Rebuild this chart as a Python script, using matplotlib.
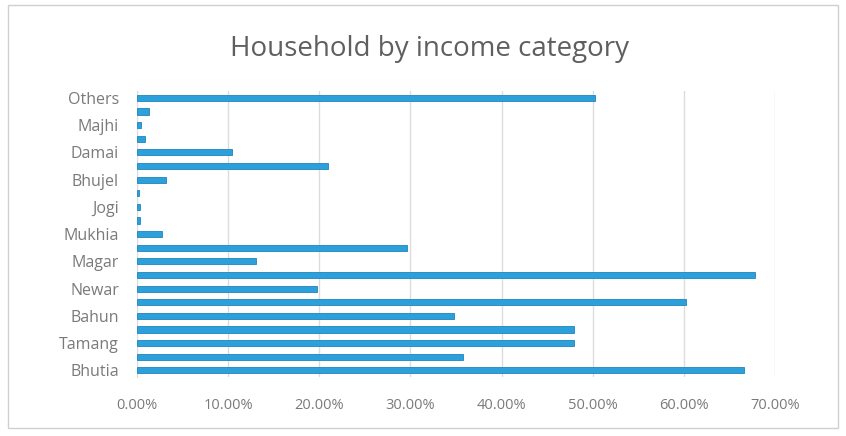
import matplotlib
matplotlib.use("Agg")
import matplotlib.pyplot as plt
from matplotlib.patches import Rectangle
from matplotlib.ticker import PercentFormatter

# Share of households per group (bottom to top); every other group is labelled
labels = ["Bhutia", "Tamang", "Bahun", "Newar", "Magar", "Mukhia",
          "Jogi", "Bhujel", "Damai", "Majhi", "Others"]
values = [0.666, 0.358, 0.479, 0.479, 0.348, 0.602, 0.197, 0.678,
          0.131, 0.296, 0.027, 0.003, 0.003, 0.002, 0.032, 0.209,
          0.104, 0.009, 0.004, 0.013, 0.502]
x_ticks = [0.0, 0.1, 0.2, 0.3, 0.4, 0.5, 0.6, 0.7]

plt.rcParams['font.family'] = ['Open Sans', 'DejaVu Sans']

fig = plt.figure(figsize=(8.46, 4.36), dpi=100)
fig.patch.set_facecolor("white")
fig.patches.append(Rectangle((0.010, 0.018), 0.980, 0.970, transform=fig.transFigure,
                             fill=False, edgecolor="#d0d0d0", linewidth=1.0))

ax = fig.add_axes([0.162, 0.135, 0.754, 0.656])
pos = range(len(values))
ax.barh(list(pos), values, height=0.45, color="#2ba0da", edgecolor="#1f84bd",
        linewidth=0.6, zorder=3)

ax.set_xlim(0, 0.7)
ax.set_ylim(-0.5, len(values) - 0.5)
ax.set_xticks(x_ticks)
ax.xaxis.set_major_formatter(PercentFormatter(1.0, decimals=2))
ax.set_yticks(list(range(0, len(values), 2)))
ax.set_yticklabels(labels)

ax.grid(axis="x", color="#dcdcdc", linewidth=1.0, zorder=0)
for side in ["top", "right", "bottom"]:
    ax.spines[side].set_visible(False)
ax.spines["left"].set_color("#dcdcdc")
ax.tick_params(axis="both", length=0, colors="#7a7a7a", labelsize=10.5)
ax.tick_params(axis="y", labelsize=11.5, pad=13)
ax.tick_params(axis="x", pad=15)

fig.text(0.508, 0.888, "Household by income category", ha="center", va="center",
         fontsize=20, color="#5f5f5f")

fig.savefig("out.png", dpi=100, facecolor="white")
